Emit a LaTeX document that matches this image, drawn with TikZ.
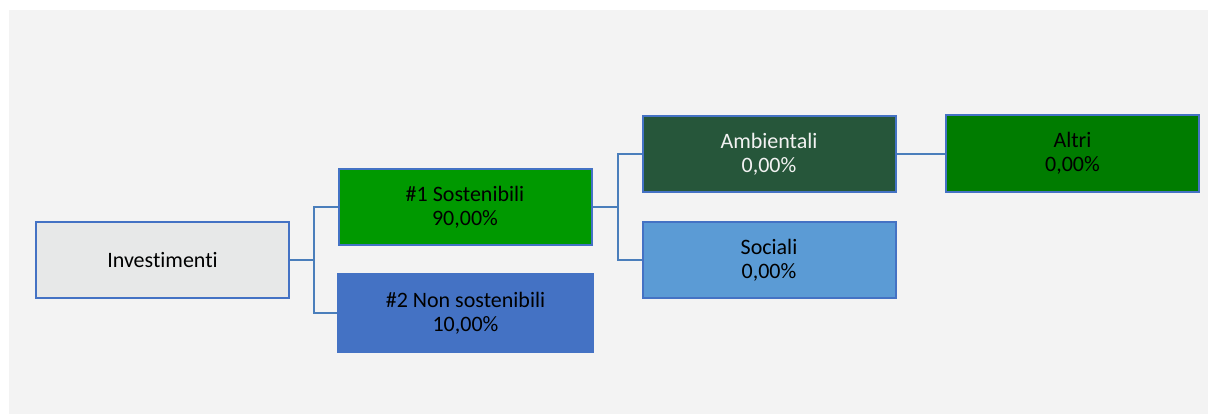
\documentclass[tikz,border=0pt]{standalone}
\usepackage{fontspec}
\setmainfont[RawFeature={-liga}]{Carlito}
\definecolor{bgc}{RGB}{243,243,243}
\definecolor{edgeblue}{RGB}{68,114,196}
\definecolor{connblue}{RGB}{74,126,187}
\definecolor{invfill}{RGB}{231,232,232}
\definecolor{susfill}{RGB}{0,153,0}
\definecolor{nonfill}{RGB}{68,114,196}
\definecolor{ambfill}{RGB}{38,86,58}
\definecolor{altfill}{RGB}{0,124,0}
\definecolor{socfill}{RGB}{91,155,213}
\begin{document}
\begin{tikzpicture}[x=1pt,y=-1pt,
  box/.style={draw=edgeblue,line width=2pt,inner sep=0pt,minimum width=253pt,minimum height=76pt,
    align=center,font=\fontsize{22}{24}\selectfont,text=black},
  conn/.style={draw=connblue,line width=2pt}]
\useasboundingbox (0,0) rectangle (1208,414);
\fill[bgc] (9,10) rectangle (1208,414);
\node[box,fill=invfill] (inv) at (162.5,260) {Investimenti};
\node[box,fill=susfill] (s1) at (465,207) {\#1 Sostenibili\\90,00\%};
\node[box,fill=nonfill,draw=nonfill,minimum width=255pt,minimum height=78pt] (s2) at (465.5,313) {\#2 Non sostenibili\\10,00\%};
\node[box,fill=ambfill,text={rgb,255:red,242;green,242;blue,242}] (amb) at (769,154) {Ambientali\\0,00\%};
\node[box,fill=socfill] (soc) at (769,260) {Sociali\\0,00\%};
\node[box,fill=altfill,minimum height=77pt] (alt) at (1072.5,153.5) {Altri\\0,00\%};
\draw[conn] (inv.east) -- ++(24,0) coordinate (j1);
\draw[conn] (j1) |- (s1.west);
\draw[conn] (j1) |- (s2.west);
\draw[conn] (s1.east) -- ++(25,0) coordinate (j2);
\draw[conn] (j2) |- (amb.west);
\draw[conn] (j2) |- (soc.west);
\draw[conn] (amb.east) -- (amb.east -| alt.west);
\end{tikzpicture}
\end{document}
